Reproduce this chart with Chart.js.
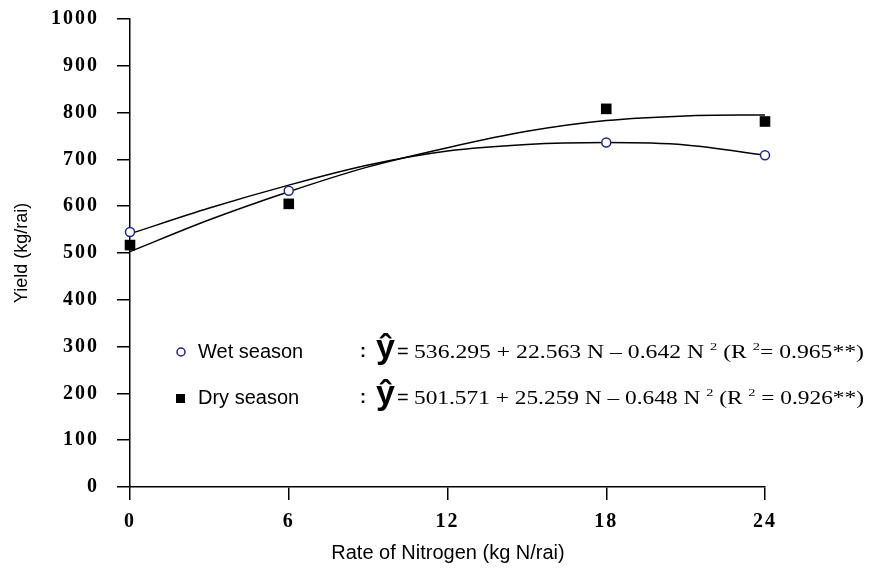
<!DOCTYPE html>
<html><head><meta charset="utf-8">
<script src="https://cdn.jsdelivr.net/npm/chart.js@4/dist/chart.umd.min.js"></script>
<style>html,body{margin:0;padding:0;background:#fff;}#wrap{width:871px;height:572px;position:relative;}</style>
</head><body><div id="wrap"><canvas id="c" width="871" height="572"></canvas></div>
<script>
// ---- data ----
const observedN = [0, 6, 18, 24];
const wetObserved = [545, 633, 736, 709];
const dryObserved = [517, 605, 808, 781];
const curveN = [0, 3, 6, 9, 12, 15, 18, 21, 24];
const wetCurve = [541, 596, 645, 688, 718, 732, 736, 731, 709];
const dryCurve = [503, 571, 631, 684, 725, 760, 783, 793, 795];
const xTicks = [0, 6, 12, 18, 24];
const yTicks = [0, 100, 200, 300, 400, 500, 600, 700, 800, 900, 1000];
const seriesNames = ['Wet season', 'Dry season'];
const wetEquation = [['536.295 + 22.563 N \u2013 0.642 N ', 0], ['2', 1], [' (R ', 0], ['2', 1], ['= 0.965**)', 0]];
const dryEquation = [['501.571 + 25.259 N \u2013 0.648 N ', 0], ['2', 1], [' (R ', 0], ['2', 1], [' = 0.926**)', 0]];
const xTitle = 'Rate of Nitrogen (kg N/rai)';
const yTitle = 'Yield (kg/rai)';

const WET_COLOR = '#22229a';
const pts = (xs, ys) => xs.map((x, i) => ({x: x, y: ys[i]}));

function drawEquation(ctx, segs, x, y, targetW) {
  const base = '18px "Liberation Serif"', sup = '11px "Liberation Serif"';
  let w = 0;
  segs.forEach(s => { ctx.font = s[1] ? sup : base; w += ctx.measureText(s[0]).width; });
  const k = targetW / w;
  ctx.save();
  ctx.translate(x, y);
  ctx.scale(k, 1);
  let cx = 0;
  ctx.textBaseline = 'alphabetic';
  ctx.textAlign = 'left';
  segs.forEach(s => {
    ctx.font = s[1] ? sup : base;
    ctx.fillText(s[0], cx, s[1] ? -8 : 0);
    cx += ctx.measureText(s[0]).width;
  });
  ctx.restore();
}

const decor = {
  id: 'decor',
  beforeDraw(chart) { chart.ctx.letterSpacing = '2px'; },
  beforeDatasetsDraw(chart) { chart.ctx.letterSpacing = '0px'; },
  afterDraw(chart) {
    const ctx = chart.ctx;
    ctx.save();
    ctx.letterSpacing = '0px';
    ctx.fillStyle = '#000';
    ctx.font = '20px "Liberation Sans"';
    ctx.textAlign = 'center';
    ctx.textBaseline = 'middle';
    ctx.fillText(xTitle, 448, 553);
    ctx.save();
    ctx.translate(22, 253);
    ctx.rotate(-Math.PI / 2);
    ctx.font = '18px "Liberation Sans"';
    ctx.fillText(yTitle, 0, 0);
    ctx.restore();
    const rows = [
      {y: 352, name: seriesNames[0], eq: wetEquation, wet: true},
      {y: 398, name: seriesNames[1], eq: dryEquation, wet: false}
    ];
    rows.forEach(r => {
      if (r.wet) {
        ctx.beginPath();
        ctx.arc(181, r.y, 4, 0, Math.PI * 2);
        ctx.strokeStyle = WET_COLOR; ctx.lineWidth = 1.5; ctx.fillStyle = '#fff';
        ctx.fill(); ctx.stroke();
      } else {
        ctx.fillStyle = '#000';
        ctx.fillRect(176, r.y - 4, 9, 9);
      }
      ctx.fillStyle = '#000';
      ctx.textAlign = 'left';
      ctx.textBaseline = 'middle';
      ctx.font = '20px "Liberation Sans"';
      ctx.fillText(r.name, 198, r.y);
      ctx.font = 'bold 18px "Liberation Sans"';
      ctx.fillText(':', 360, r.y);
      ctx.font = 'bold 34px "Liberation Sans"';
      ctx.fillText('\u0177', 376, r.y - 3);
      ctx.font = '20px "Liberation Sans"';
      ctx.fillText('=', 397, r.y);
      ctx.textBaseline = 'alphabetic';
      drawEquation(ctx, r.eq, 414, r.y + 6, 450);
    });
    ctx.restore();
  }
};

const axisCommon = {
  type: 'linear',
  border: {display: true, color: '#000', width: 1.5},
  grid: {drawOnChartArea: false, drawTicks: true, tickLength: 13, color: '#000', lineWidth: 1.5},
  ticks: {color: '#000', font: {family: 'Liberation Serif', weight: 'bold', size: 20}, maxRotation: 0, autoSkip: false, callback: v => String(v)}
};

new Chart(document.getElementById('c'), {
  type: 'line',
  data: {
    datasets: [
      {label: seriesNames[0] + ' fit', data: pts(curveN, wetCurve), borderColor: '#000', borderWidth: 1.5, pointRadius: 0, cubicInterpolationMode: 'monotone', fill: false, order: 3, clip: false},
      {label: seriesNames[1] + ' fit', data: pts(curveN, dryCurve), borderColor: '#000', borderWidth: 1.5, pointRadius: 0, cubicInterpolationMode: 'monotone', fill: false, order: 4, clip: false},
      {label: seriesNames[0], data: pts(observedN, wetObserved), showLine: false, pointStyle: 'circle', pointRadius: 4.5, pointBorderWidth: 1.5, pointBorderColor: WET_COLOR, pointBackgroundColor: '#fff', order: 1, clip: false},
      {label: seriesNames[1], data: pts(observedN, dryObserved), showLine: false, pointStyle: 'rect', pointRadius: 7.5, pointBorderWidth: 0, pointBorderColor: '#000', pointBackgroundColor: '#000', order: 2, clip: false}
    ]
  },
  options: {
    responsive: false,
    animation: false,
    devicePixelRatio: 1,
    layout: {padding: {top: 19, right: 106, left: 0, bottom: 0}},
    plugins: {legend: {display: false}, tooltip: {enabled: false}},
    scales: {
      x: Object.assign({}, axisCommon, {
        min: 0, max: 24,
        afterBuildTicks: s => { s.ticks = xTicks.map(v => ({value: v})); },
        afterFit: s => { s.height = 85; s.paddingLeft = 0; s.paddingRight = 0; },
        ticks: Object.assign({}, axisCommon.ticks, {padding: 10})
      }),
      y: Object.assign({}, axisCommon, {
        min: 0, max: 1000,
        afterBuildTicks: s => { s.ticks = yTicks.map(v => ({value: v})); },
        afterFit: s => { s.width = 130; s.paddingTop = 0; s.paddingBottom = 0; },
        ticks: Object.assign({}, axisCommon.ticks, {padding: 18})
      })
    }
  },
  plugins: [decor]
});
</script></body></html>
